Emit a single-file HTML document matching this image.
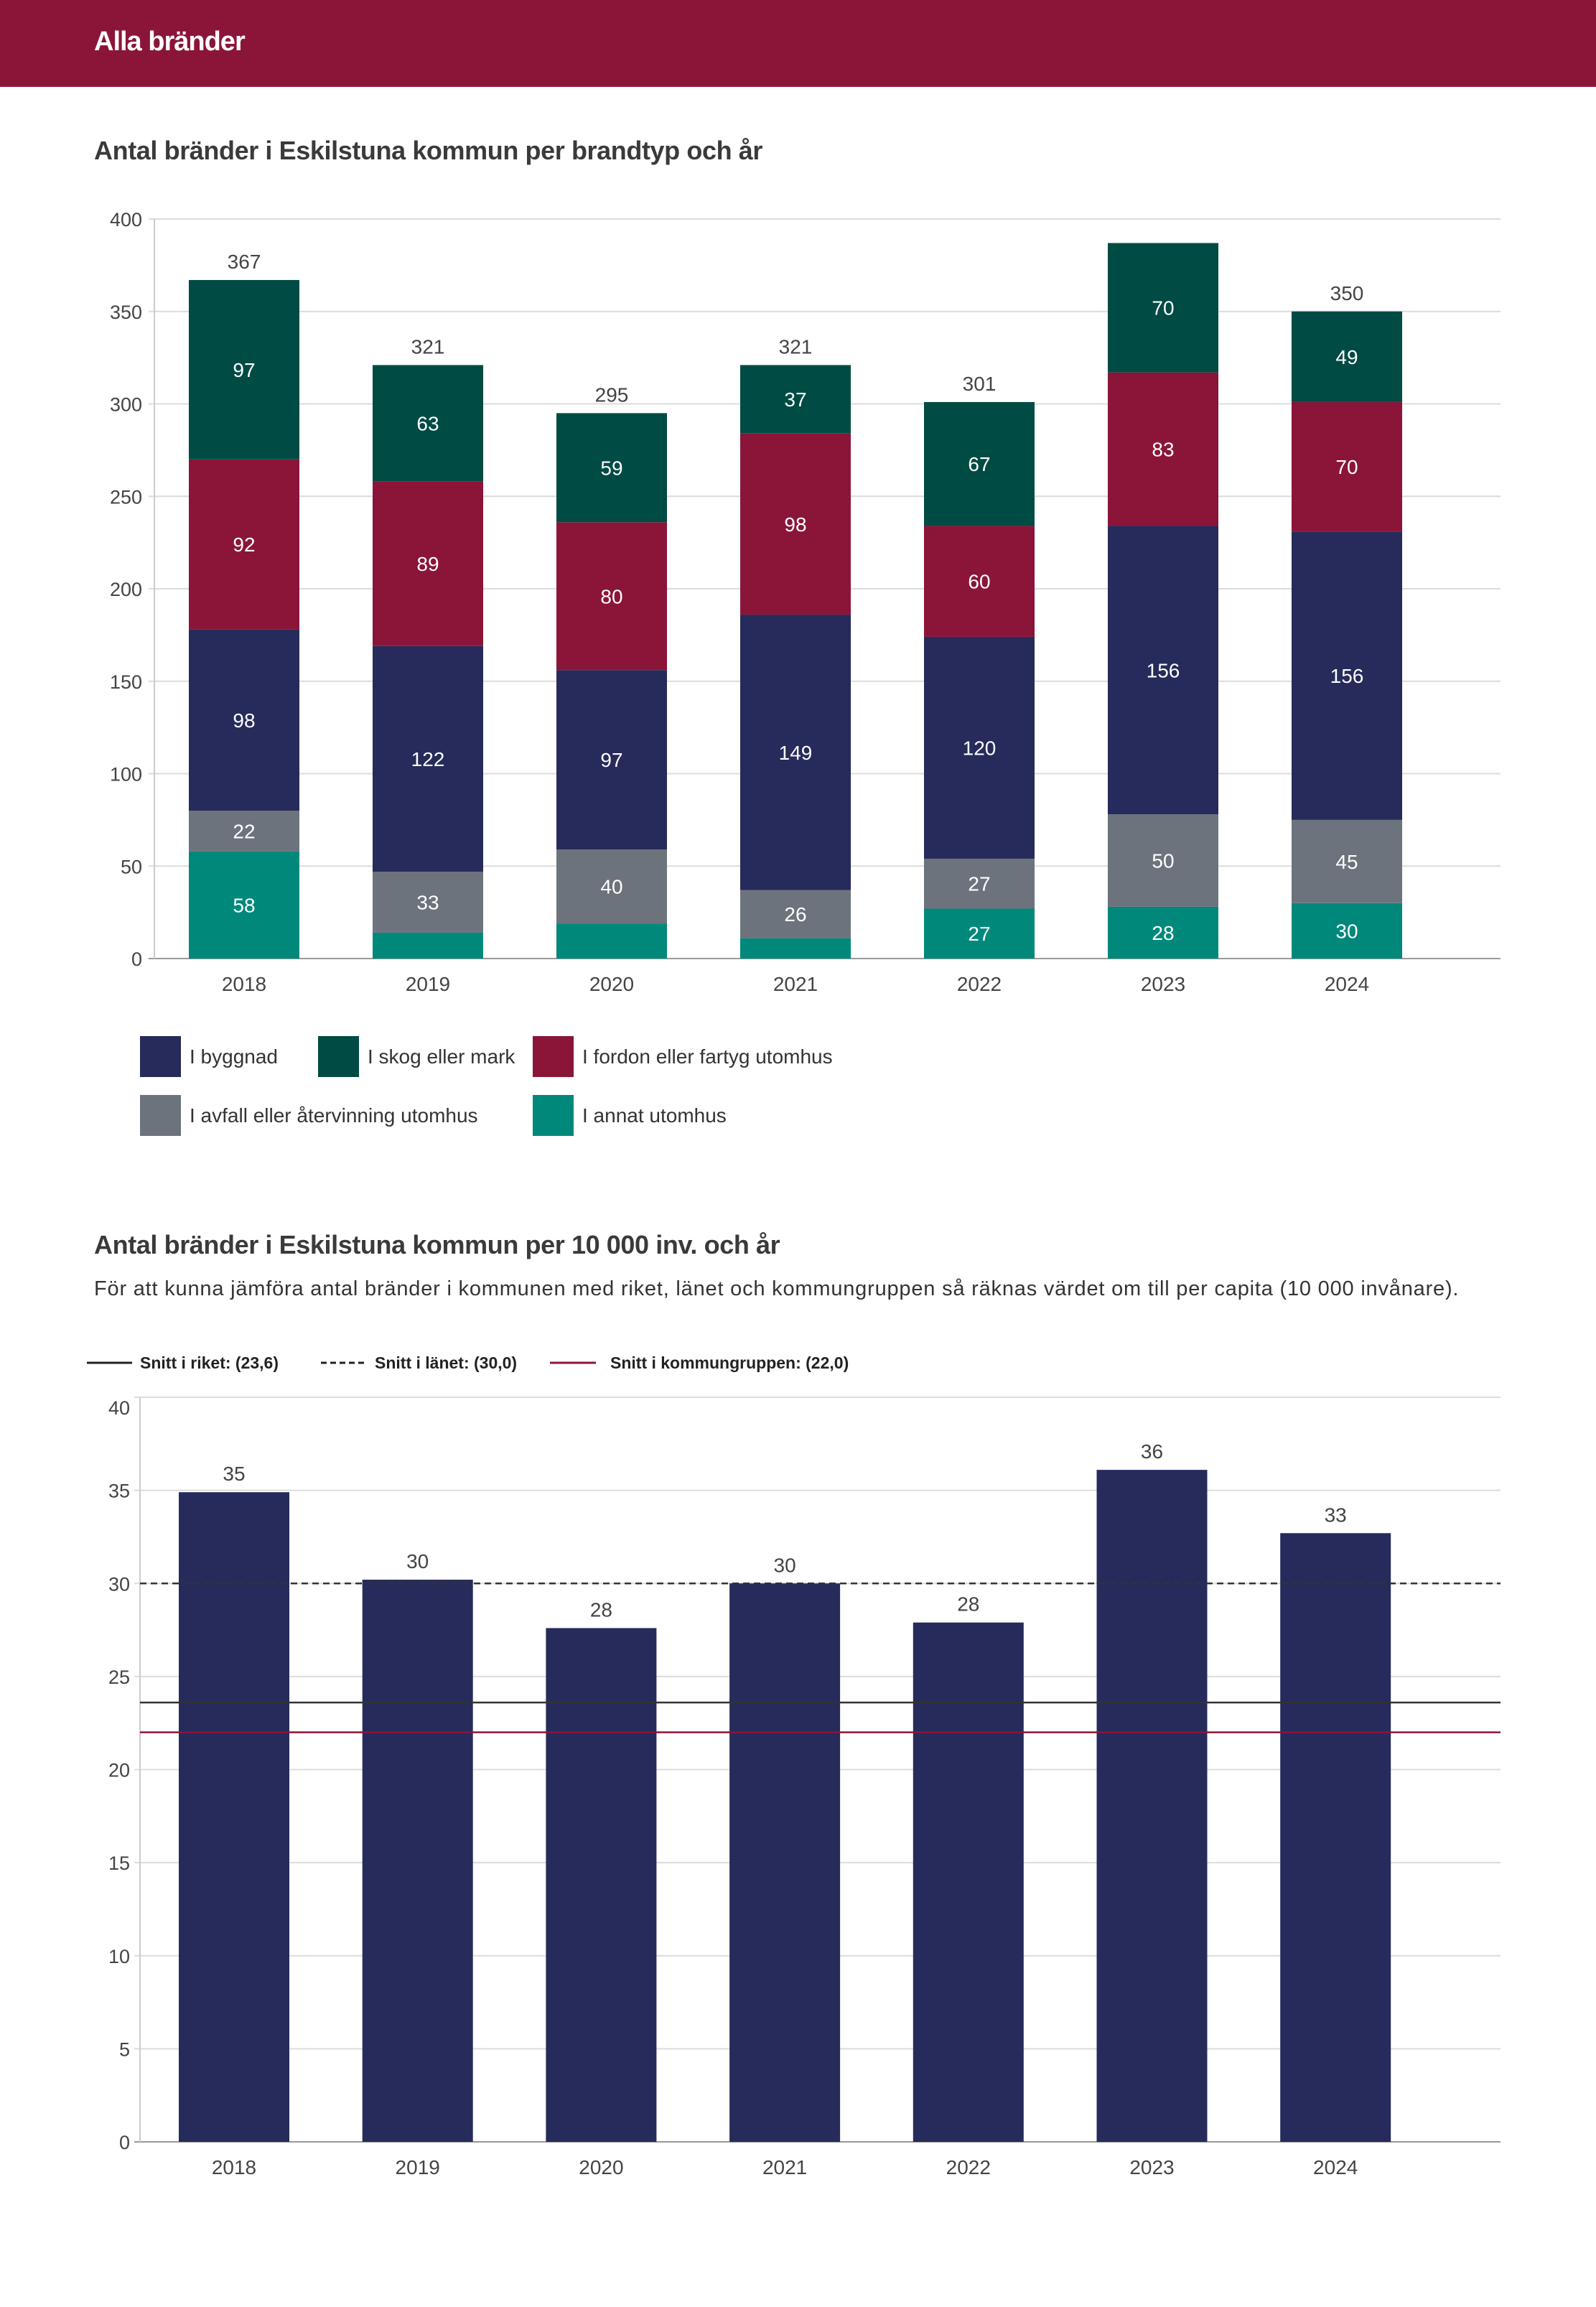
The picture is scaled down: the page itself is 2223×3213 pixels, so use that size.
<!DOCTYPE html>
<html><head><meta charset="utf-8">
<style>
html,body{margin:0;padding:0;background:#fff;}
svg{display:block;font-family:"Liberation Sans","DejaVu Sans",sans-serif;}
</style></head>
<body>
<svg id="page" width="2223" height="3213" viewBox="0 0 2223 3213" xmlns="http://www.w3.org/2000/svg">
<rect x="0" y="0" width="2223" height="121" fill="#8B1538"/>
<text x="131" y="70" font-size="38" font-weight="bold" fill="#fff" letter-spacing="-1">Alla bränder</text>
<text x="131" y="222" font-size="36" font-weight="bold" fill="#3a3a3a" letter-spacing="-0.4">Antal bränder i Eskilstuna kommun per brandtyp och år</text>
<g id="c1"></g>
<g>
 <rect x="195" y="1443" width="57" height="57" fill="#262B5B"/>
 <text x="264" y="1481" font-size="28" fill="#333">I byggnad</text>
 <rect x="443" y="1443" width="57" height="57" fill="#004B44"/>
 <text x="512" y="1481" font-size="28" fill="#333">I skog eller mark</text>
 <rect x="742" y="1443" width="57" height="57" fill="#8B1538"/>
 <text x="811" y="1481" font-size="28" fill="#333">I fordon eller fartyg utomhus</text>
 <rect x="195" y="1525" width="57" height="57" fill="#6D737C"/>
 <text x="264" y="1563" font-size="28" fill="#333">I avfall eller återvinning utomhus</text>
 <rect x="742" y="1525" width="57" height="57" fill="#00897B"/>
 <text x="811" y="1563" font-size="28" fill="#333">I annat utomhus</text>
</g>
<text x="131" y="1746" font-size="36" font-weight="bold" fill="#3a3a3a" letter-spacing="-0.4">Antal bränder i Eskilstuna kommun per 10 000 inv. och år</text>
<text x="131" y="1804" font-size="29" fill="#333" letter-spacing="0.8">För att kunna jämföra antal bränder i kommunen med riket, länet och kommungruppen så räknas värdet om till per capita (10 000 invånare).</text>
<g>
 <line x1="121" y1="1898" x2="184" y2="1898" stroke="#222" stroke-width="3"/>
 <text x="195" y="1906" font-size="23" font-weight="bold" fill="#222">Snitt i riket: (23,6)</text>
 <line x1="447" y1="1898" x2="508" y2="1898" stroke="#222" stroke-width="3" stroke-dasharray="8,5"/>
 <text x="522" y="1906" font-size="23" font-weight="bold" fill="#222">Snitt i länet: (30,0)</text>
 <line x1="766" y1="1898" x2="830" y2="1898" stroke="#8B1538" stroke-width="3"/>
 <text x="850" y="1906" font-size="23" font-weight="bold" fill="#222">Snitt i kommungruppen: (22,0)</text>
</g>
<g id="c2"></g>
</svg>
<script>
const years = ["2018","2019","2020","2021","2022","2023","2024"];
const annat = [58,14,19,11,27,28,30];
const avfall = [22,33,40,26,27,50,45];
const byggnad = [98,122,97,149,120,156,156];
const fordon = [92,89,80,98,60,83,70];
const skog = [97,63,59,37,67,70,49];
const annatLabels = ["58","","","","27","28","30"];
const totalLabels = ["367","321","295","321","301","","350"];
const ticks1 = [0,50,100,150,200,250,300,350,400];

const perCapita = [34.9,30.2,27.6,30.0,27.9,36.1,32.7];
const perCapitaLabels = ["35","30","28","30","28","36","33"];
const ticks2 = [0,5,10,15,20,25,30,35,40];
const riket = 23.6;
const lanet = 30.0;
const kommungrupp = 22.0;

const NS="http://www.w3.org/2000/svg";
function mk(tag, attrs, parent){const e=document.createElementNS(NS,tag);for(const k in attrs)e.setAttribute(k,attrs[k]);parent.appendChild(e);return e;}

// Chart 1
(function(){
 const g=document.getElementById('c1');
 const L=215,R=2090,Y0=1335,Ytop=305,max=400;
 const y=v=>Y0-(v/max)*(Y0-Ytop);
 const x=i=>340+i*256;
 const bw=154;
 ticks1.forEach(t=>{
  const ln=mk('line',{x1:L-8,x2:R,y1:y(t),y2:y(t),stroke:t===0?'#999':'#dcdcdc','stroke-width':2},g);
  
  
  const tx=mk('text',{x:L-17,y:y(t)+10,'font-size':27,fill:'#444','text-anchor':'end'},g);
  tx.textContent=t;
  
  
 });
 const ax=mk('line',{x1:L,x2:L,y1:Ytop,y2:Y0,stroke:'#ccc','stroke-width':2},g);
 
 
 const series=[[annat,'#00897B','annat'],[avfall,'#6D737C','avfall'],[byggnad,'#262B5B','byggnad'],[fordon,'#8B1538','fordon'],[skog,'#004B44','skog']];
 years.forEach((yr,i)=>{
  let base=0;
  series.forEach(([arr,col,nm],si)=>{
   const v=arr[i];
   const r=mk('rect',{x:x(i)-bw/2,y:y(base+v),width:bw,height:y(base)-y(base+v),fill:col},g);
   
   
   const lab= nm==='annat'?annatLabels[i]:String(v);
   if(lab){
    const t=mk('text',{x:x(i),y:(y(base)+y(base+v))/2+10,'font-size':28,fill:'#fff','text-anchor':'middle'},g);
    t.textContent=lab;
    
    
   }
   base+=v;
  });
  if(totalLabels[i]){
   const t=mk('text',{x:x(i),y:y(base)-16,'font-size':28,fill:'#444','text-anchor':'middle'},g);
   t.textContent=totalLabels[i];
   
   
  }
  const t=mk('text',{x:x(i),y:1380,'font-size':28,fill:'#444','text-anchor':'middle'},g);
  t.textContent=yr;
  
  
 });
})();

// Chart 2
(function(){
 const g=document.getElementById('c2');
 const L=195,R=2090,Y0=2983,Ytop=1946,max=40;
 const y=v=>Y0-(v/max)*(Y0-Ytop);
 const x=i=>326+i*255.7;
 const bw=154;
 ticks2.forEach(t=>{
  const ln=mk('line',{x1:L-8,x2:R,y1:y(t),y2:y(t),stroke:t===0?'#999':'#dcdcdc','stroke-width':2},g);
  
  
  const tx=mk('text',{x:L-14,y:y(t)+10+(t===40?14:0),'font-size':27,fill:'#444','text-anchor':'end'},g);
  tx.textContent=t;
  
  
 });
 const ax=mk('line',{x1:L,x2:L,y1:Ytop,y2:Y0,stroke:'#ccc','stroke-width':2},g);
 
 
 years.forEach((yr,i)=>{
  const v=perCapita[i];
  const r=mk('rect',{x:x(i)-bw/2,y:y(v),width:bw,height:Y0-y(v),fill:'#262B5B'},g);
  
  
  const t=mk('text',{x:x(i),y:y(v)-16,'font-size':28,fill:'#444','text-anchor':'middle'},g);
  t.textContent=perCapitaLabels[i];
  
  
  const t2=mk('text',{x:x(i),y:3028,'font-size':28,fill:'#444','text-anchor':'middle'},g);
  t2.textContent=yr;
  
  
 });
 const l1=mk('line',{x1:L,x2:R,y1:y(lanet),y2:y(lanet),stroke:'#333','stroke-width':2.5,'stroke-dasharray':'9,6'},g);
 
 
 const l2=mk('line',{x1:L,x2:R,y1:y(riket),y2:y(riket),stroke:'#333','stroke-width':2.5},g);
 
 
 const l3=mk('line',{x1:L,x2:R,y1:y(kommungrupp),y2:y(kommungrupp),stroke:'#8B1538','stroke-width':2.5},g);
 
 
})();
</script>
</body></html>
